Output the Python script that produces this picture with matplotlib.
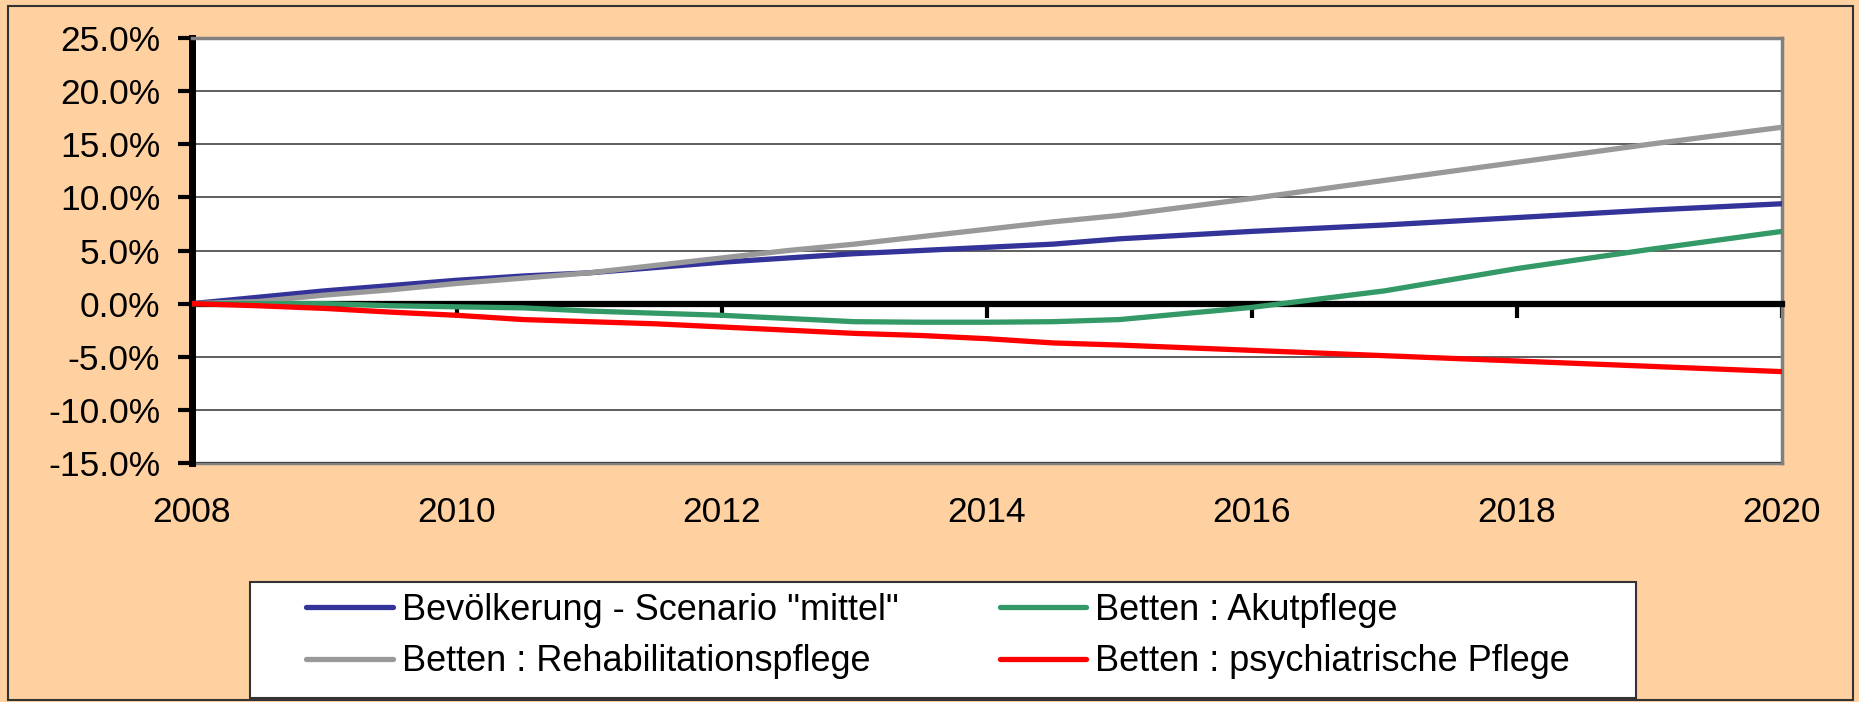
import matplotlib
matplotlib.use("Agg")
import matplotlib.pyplot as plt
from matplotlib.patches import Rectangle

plt.rcParams['font.family'] = ['Liberation Sans', 'DejaVu Sans']

# Werte in Prozent (Veränderung gegenüber 2008)
jahre = [2008, 2008.5, 2009, 2009.5, 2010, 2010.5, 2011, 2011.5, 2012, 2012.5,
         2013, 2013.5, 2014, 2014.5, 2015, 2016, 2017, 2018, 2019, 2020]
bevoelkerung = [0, 0.6, 1.2, 1.7, 2.2, 2.6, 2.9, 3.4, 3.9, 4.3,
                4.7, 5.0, 5.3, 5.6, 6.1, 6.8, 7.4, 8.1, 8.8, 9.4]
rehabilitation = [0, 0.2, 0.8, 1.3, 1.9, 2.4, 2.9, 3.6, 4.3, 5.0,
                  5.6, 6.3, 7.0, 7.7, 8.3, 9.9, 11.6, 13.3, 15.0, 16.6]
akutpflege = [0, 0, 0, -0.2, -0.3, -0.4, -0.7, -0.9, -1.1, -1.4,
              -1.7, -1.75, -1.75, -1.7, -1.5, -0.35, 1.2, 3.3, 5.1, 6.8]
psychiatrie = [0, -0.2, -0.45, -0.8, -1.1, -1.5, -1.7, -1.9, -2.2, -2.5,
               -2.8, -3.0, -3.3, -3.7, -3.9, -4.4, -4.9, -5.4, -5.9, -6.4]

x_ticks = [2008, 2010, 2012, 2014, 2016, 2018, 2020]
y_ticks = [-15, -10, -5, 0, 5, 10, 15, 20, 25]

labels = ['Bevölkerung - Scenario "mittel"', 'Betten : Rehabilitationspflege',
          'Betten : Akutpflege', 'Betten : psychiatrische Pflege']
farben = ['#333399', '#999999', '#339966', '#FF0000']

bg = '#FFD0A0'
fig = plt.figure(figsize=(18.59, 7.02), dpi=100, facecolor=bg)
fig.patches.append(Rectangle((8/1859, 2/702), 1845/1859, 694/702, transform=fig.transFigure,
                             facecolor='none', edgecolor='#333333', lw=1.5))

ax = fig.add_axes([192/1859, 1-463/702, 1590/1859, 425/702])
ax.set_facecolor('white')

linien = []
for werte, f, lab in zip([bevoelkerung, rehabilitation, akutpflege, psychiatrie], farben, labels):
    l, = ax.plot(jahre, werte, color=f, lw=3.8, label=lab, zorder=3,
                 solid_capstyle='round', solid_joinstyle='round')
    linien.append(l)

ax.set_xlim(2008, 2020)
ax.set_ylim(-15, 25)
ax.set_yticks(y_ticks)
ax.set_yticklabels([f"{v:.1f}%" for v in y_ticks])
ax.yaxis.grid(True, color='#333333', lw=1.1)
ax.set_axisbelow(True)

ax.spines['bottom'].set_position(('data', 0))
ax.spines['bottom'].set_color('black')
ax.spines['bottom'].set_linewidth(4.5)
ax.spines['left'].set_color('black')
ax.spines['left'].set_linewidth(5)
for s in ['top', 'right']:
    ax.spines[s].set_color('#808080')
    ax.spines[s].set_linewidth(2.5)

ax.set_xticks(x_ticks)
ax.tick_params(axis='x', direction='out', length=10, width=3, labelbottom=False)
ax.tick_params(axis='y', direction='out', length=10, width=3, pad=13, labelsize=25.5)

sec = ax.secondary_xaxis(0)
sec.set_xticks(x_ticks)
sec.set_xticklabels([str(j) for j in x_ticks])
sec.tick_params(length=0, pad=24, labelsize=25.5)
sec.spines['bottom'].set_color('#808080')
sec.spines['bottom'].set_linewidth(2.5)

# Legende
fig.patches.append(Rectangle((250/1859, 1-698/702), 1386/1859, 116/702, transform=fig.transFigure,
                             facecolor='white', edgecolor='#333333', lw=1.5))
fig.legend(handles=linien, ncol=2, loc='upper left', bbox_to_anchor=(306/1859, 1-593/702),
           frameon=False, fontsize=26, handlelength=2.4, handletextpad=0.25,
           columnspacing=2.8, labelspacing=0.45, borderpad=0, borderaxespad=0)

fig.savefig('out.png', dpi=100, facecolor=bg)
